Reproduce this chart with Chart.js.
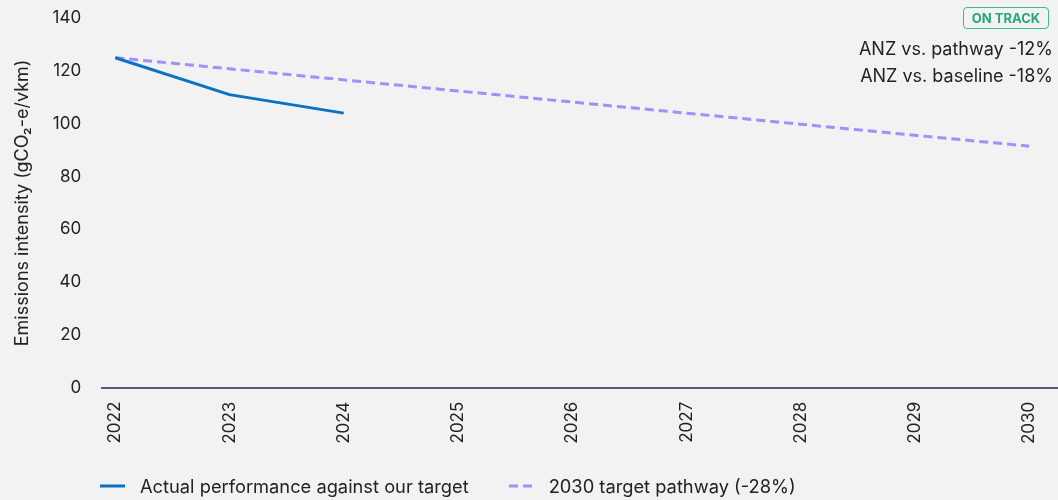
<!DOCTYPE html>
<html lang="en">
<head>
  <meta charset="UTF-8" />
  <title>Emissions intensity vs 2030 pathway</title>
  <script src="https://cdn.jsdelivr.net/npm/chart.js"></script>
  <style>
    body {
      margin: 0;
      background-color: #f2f2f2;
      font-family: Inter, Arial, sans-serif;
      color: #222;
    }
    .wrap {
      position: relative;
      width: 1058px;
      height: 500px;
    }
    .badge {
      position: absolute;
      left: 963px;
      top: 7px;
      width: 84px;
      height: 20px;
      border: 1.5px solid #3dbb8c;
      border-radius: 4px;
      color: #27a774;
      font-size: 13px;
      font-weight: 700;
      line-height: 20px;
      text-align: center;
    }
    .note {
      position: absolute;
      right: 5px;
      font-size: 18px;
      color: #222;
    }
    .legend {
      position: absolute;
      left: 100px;
      top: 475px;
      font-size: 18.3px;
      display: flex;
      align-items: center;
    }
    .legend span { margin-right: 40px; display: flex; align-items: center; }
    .legend svg { margin-right: 15px; }
  </style>
</head>
<body>
  <div class="wrap">
    <canvas id="lineChart" width="1058" height="500"></canvas>
    <div class="badge">ON TRACK</div>
    <div class="note" style="top: 38px;">ANZ vs. pathway -12%</div>
    <div class="note" style="top: 65px;">ANZ vs. baseline -18%</div>
    <div class="legend">
      <span><svg width="25" height="4"><line x1="0" y1="2" x2="25" y2="2" stroke="#0a72c2" stroke-width="3"/></svg>Actual performance against our target</span>
      <span><svg width="25" height="4"><line x1="0" y1="2" x2="25" y2="2" stroke="#a58cff" stroke-width="3" stroke-dasharray="9,5"/></svg>2030 target pathway (-28%)</span>
    </div>
  </div>

  <script>
    const years = [2022, 2023, 2024, 2025, 2026, 2027, 2028, 2029, 2030];
    const actualYears = [2022, 2023, 2024];
    const actual = [125, 111, 104];
    const target = [125, 120.8, 116.6, 112.4, 108.2, 104, 99.8, 95.6, 91.5];
    const yTicks = [0, 20, 40, 60, 80, 100, 120, 140];

    const ctx = document.getElementById("lineChart").getContext("2d");
    new Chart(ctx, {
      type: 'line',
      data: {
        datasets: [{
          label: 'Actual performance against our target',
          data: actualYears.map((y, i) => ({ x: y, y: actual[i] })),
          borderColor: '#0a72c2',
          borderWidth: 3,
          pointRadius: 0,
          tension: 0
        }, {
          label: '2030 target pathway (-28%)',
          data: years.map((y, i) => ({ x: y, y: target[i] })),
          borderColor: '#a58cff',
          borderWidth: 3,
          borderDash: [9, 5],
          pointRadius: 0,
          tension: 0
        }]
      },
      options: {
        responsive: false,
        animation: false,
        layout: { padding: { top: 17, left: 12, right: 0, bottom: 50 } },
        plugins: {
          legend: { display: false },
          tooltip: { enabled: false }
        },
        scales: {
          x: {
            type: 'linear',
            min: 2021.886,
            max: 2030.253,
            afterBuildTicks: scale => { scale.ticks = years.map(v => ({ value: v })); },
            ticks: {
              minRotation: 90,
              maxRotation: 90,
              autoSkip: false,
              color: '#222',
              font: { family: 'Inter', size: 17 },
              padding: 6,
              callback: v => String(v)
            },
            grid: { display: false },
            border: { display: true, color: '#5c5a80', width: 2 }
          },
          y: {
            min: 0,
            max: 140,
            afterBuildTicks: scale => { scale.ticks = yTicks.map(v => ({ value: v })); },
            ticks: {
              color: '#222',
              font: { family: 'Inter', size: 17, lineHeight: 0.6 },
              padding: 13
            },
            grid: { display: false },
            border: { display: false },
            title: {
              display: true,
              text: 'Emissions intensity (gCO\u2082-e/vkm)',
              color: '#222',
              font: { family: 'Inter', size: 18 },
              padding: { top: 0, bottom: 6 }
            }
          }
        }
      }
    });
  </script>
</body>
</html>
